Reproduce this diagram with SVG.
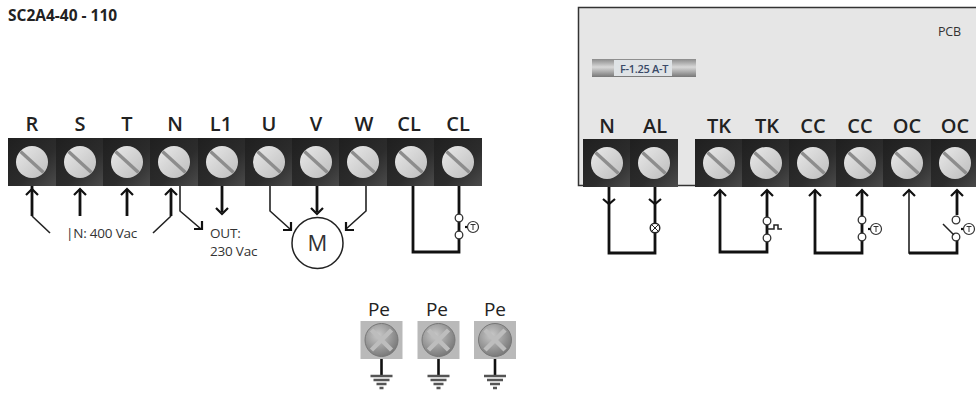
<svg xmlns="http://www.w3.org/2000/svg" xmlns:xlink="http://www.w3.org/1999/xlink" width="976" height="394" viewBox="0 0 976 394">
<style>
text{font-family:"Open Sans","Noto Sans","Liberation Sans",sans-serif;fill:#222}
.lb{font-size:20px;font-weight:600;text-anchor:middle}
.sm{font-size:13.5px;fill:#333;letter-spacing:-0.2px}
.pe{font-size:19px;text-anchor:middle}
.w{fill:none;stroke:#111;stroke-width:2.8}
.t{fill:none;stroke:#222;stroke-width:1.6}
.c{fill:#fff;stroke:#333;stroke-width:1.3}
.h{fill:none;stroke:#111;stroke-width:2.2}
</style>
<defs>
<linearGradient id="cell" x1="0" y1="0" x2="1" y2="1"><stop offset="0" stop-color="#1f1f1f"/><stop offset="0.6" stop-color="#2c2c2c"/><stop offset="1" stop-color="#4b4b4b"/></linearGradient>
<linearGradient id="scr" x1="0" y1="0" x2="1" y2="1"><stop offset="0" stop-color="#e9e9e9"/><stop offset="1" stop-color="#bdbdbd"/></linearGradient>
<linearGradient id="fz" x1="0" y1="0" x2="0" y2="1"><stop offset="0" stop-color="#8a8a8a"/><stop offset="0.45" stop-color="#d8d8d8"/><stop offset="1" stop-color="#777"/></linearGradient>
<radialGradient id="pe" cx="0.4" cy="0.35" r="0.75"><stop offset="0" stop-color="#c9c9c9"/><stop offset="1" stop-color="#6f6f6f"/></radialGradient>
<g id="term">
<rect x="-24" y="-24" width="48" height="48" fill="url(#cell)"/>
<circle r="16" fill="url(#scr)"/>
<path d="M-11.5-10.5L11.5 10.5" stroke="#8d8d8d" stroke-width="3.4"/>
</g>
<g id="pebox">
<rect x="-21" y="-19" width="42" height="38" fill="#b9b9b9"/>
<circle r="16.500" fill="url(#pe)" stroke="#777" stroke-width="1"/>
<path d="M-10-10L10 10M10-10L-10 10" stroke="#bdbdbd" stroke-width="4.500"/>
<path d="M0 19V36" stroke="#111" stroke-width="2.6"/>
<path d="M-11 36H11M-8 40H8M-5 44H5M-2 48H2" stroke="#555" stroke-width="2.600"/>
</g>
<g id="sw">
<circle cx="0" cy="-9" r="3.800" class="c"/>
<circle cx="0" cy="8" r="3.800" class="c"/>
</g>
<g id="temp">
<path d="M-8 0H0" stroke="#111" stroke-width="2.200"/>
<circle r="5.500" fill="#fff" stroke="#333" stroke-width="1.200"/>
<path d="M-2.500-2.500H2.500M0-2.500V3" stroke="#333" stroke-width="1"/>
</g>
</defs>

<rect width="976" height="394" fill="#fff"/>
<text x="8" y="21" style="font-size:15.500px;font-weight:700;letter-spacing:0">SC2A4-40 - 110</text>

<g id="pcb">
<rect x="578.500" y="7.500" width="410" height="178" fill="#e6e6e6" stroke="#333" stroke-width="1.500"/>
<text class="sm" x="938" y="36" style="font-size:12.500px">PCB</text>
</g>
<g id="fuse">
<rect x="592" y="59" width="104" height="18" fill="url(#fz)"/>
<rect x="614" y="60" width="58" height="16" fill="#dfe3e6"/>
<text x="644" y="72.500" text-anchor="middle" style="font-size:11px;font-weight:600;fill:#3a4a68;letter-spacing:-0.3px">F-1.25 A-T</text>
</g>

<g id="connectors">
<path class="w" d="M32 167V216"/><path class="t" d="M32 216L50 233"/>
<path class="w" d="M80 189V216M127 189V216M171 189V216"/>
<path class="t" d="M171 216L153 233M180 186V211L201 229"/>
<path class="w" d="M222 186V212"/>
<path class="t" d="M270 186V211L290 229M366 186V211L346 229"/>
<path class="w" d="M317 186V212"/>
<path class="w" d="M413 186V252H459V186"/>
<path class="w" d="M609 186V253H655V186"/>
<path class="w" d="M720 190V252H767V190"/>
<path class="w" d="M815 190V253H862V190"/>
<path class="t" d="M909 190V253H957V238"/>
<path class="w" d="M909 253H957V238M957 190V215"/>
<g class="h">
<path d="M26 195L32 189L38 195M74 195L80 189L86 195M121 195L127 189L133 195M165 195L171 189L177 195"/>
<path d="M194 229H202V221"/>
<path d="M216 208L222 214L228 208"/>
<path d="M283 230H291V222M311 208L317 214L323 208M346 222V230H354"/>
<path d="M603 199L609 204L615 199M649 199L655 204L661 199"/>
<path d="M714 196L720 190L726 196M761 196L767 190L773 196M809 196L815 190L821 196M856 196L862 190L868 196M903 196L909 190L915 196M951 196L957 190L963 196"/>
</g>
<circle cx="655" cy="228" r="4.800" fill="#fff" stroke="#222" stroke-width="1.400"/>
<path d="M651.800 224.800L658.200 231.200M658.200 224.800L651.800 231.200" stroke="#222" stroke-width="1"/>
<use href="#sw" x="459" y="227"/><use href="#temp" x="473" y="227"/>
<use href="#sw" x="767" y="230"/>
<path d="M767 229H774V225H778V229H782" fill="none" stroke="#222" stroke-width="1.500"/>
<use href="#sw" x="862" y="229"/><use href="#temp" x="876" y="229"/>
<circle cx="956" cy="220" r="3.800" class="c"/><circle cx="956" cy="237" r="3.800" class="c"/>
<path d="M943 224L954 235" stroke="#222" stroke-width="1.500"/>
<use href="#temp" x="969" y="229"/>
</g>

<g id="labels-left">
<text class="sm" x="66" y="238">|N: 400 Vac</text>
<text class="sm" x="210" y="238">OUT:</text>
<text class="sm" x="210" y="256">230 Vac</text>
</g>
<g id="motor">
<circle cx="317.500" cy="243" r="25.500" fill="#fff" stroke="#222" stroke-width="1.500"/>
<text x="317.500" y="251" text-anchor="middle" style="font-size:22px;fill:#333">M</text>
</g>

<g id="R"><use href="#term" x="32" y="162"/><text class="lb" x="32" y="131">R</text></g>
<g id="S"><use href="#term" x="80" y="162"/><text class="lb" x="80" y="131">S</text></g>
<g id="T"><use href="#term" x="127" y="162"/><text class="lb" x="127" y="131">T</text></g>
<g id="N"><use href="#term" x="174" y="162"/><text class="lb" x="175" y="131">N</text></g>
<g id="L1"><use href="#term" x="222" y="162"/><text class="lb" x="221" y="131">L1</text></g>
<g id="U"><use href="#term" x="269" y="162"/><text class="lb" x="269" y="131">U</text></g>
<g id="V"><use href="#term" x="316" y="162"/><text class="lb" x="316" y="131">V</text></g>
<g id="W"><use href="#term" x="363" y="162"/><text class="lb" x="364" y="131">W</text></g>
<g id="CL1"><use href="#term" x="411" y="162"/><text class="lb" x="409" y="131">CL</text></g>
<g id="CL2"><use href="#term" x="458" y="162"/><text class="lb" x="458" y="131">CL</text></g>

<g id="N2"><use href="#term" x="607" y="163"/><text class="lb" x="607" y="133">N</text></g>
<g id="AL"><use href="#term" x="654" y="163"/><text class="lb" x="655" y="133">AL</text></g>
<g id="TK1"><use href="#term" x="719" y="163"/><text class="lb" x="719" y="133">TK</text></g>
<g id="TK2"><use href="#term" x="766" y="163"/><text class="lb" x="767" y="133">TK</text></g>
<g id="CC1"><use href="#term" x="813" y="163"/><text class="lb" x="813" y="133">CC</text></g>
<g id="CC2"><use href="#term" x="860" y="163"/><text class="lb" x="860" y="133">CC</text></g>
<g id="OC1"><use href="#term" x="907" y="163"/><text class="lb" x="907" y="133">OC</text></g>
<g id="OC2"><use href="#term" x="955" y="163"/><text class="lb" x="955" y="133">OC</text></g>

<g id="Pe1"><use href="#pebox" x="381.500" y="340"/><text class="pe" x="379" y="316">Pe</text></g>
<g id="Pe2"><use href="#pebox" x="438.500" y="340"/><text class="pe" x="437" y="316">Pe</text></g>
<g id="Pe3"><use href="#pebox" x="495" y="340"/><text class="pe" x="495" y="316">Pe</text></g>
</svg>
